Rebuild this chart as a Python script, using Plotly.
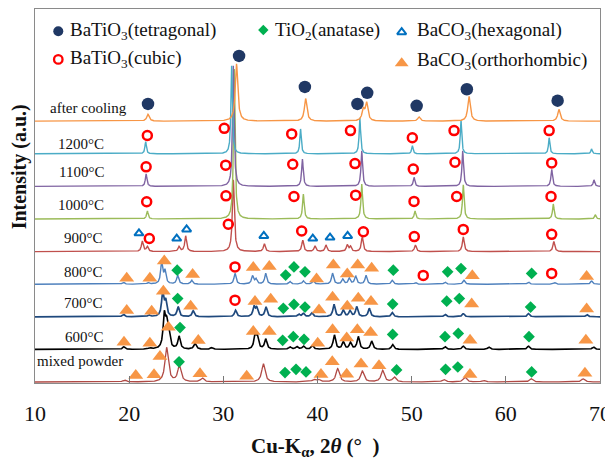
import numpy as np
import plotly.graph_objects as go

# ---------------- data ----------------
labels = ["mixed powder", "600°C", "700°C", "800°C", "900°C",
          "1000°C", "1100°C", "1200°C", "after cooling"]

mixed_pos = [19.5, 23.98, 25.33, 27.77, 34.25, 39.6, 40.1, 42.14, 44.76, 46.92, 48.15,
             53.4, 55.66, 57.6, 62.7, 68.2]
mixed_int = [0.06, 1.05, 0.49, 0.12, 0.56, 0.07, 0.07, 0.41, 0.33, 0.35, 0.15,
             0.08, 0.15, 0.05, 0.10, 0.10]

t600_pos = [19.45, 22.2, 23.73, 23.98, 24.2, 25.3, 27.0, 28.76, 33.36, 33.6, 34.5, 37.08,
            37.8, 38.5, 39.45, 41.79, 42.74, 43.5, 44.33, 45.75, 47.98, 53.54, 55.48,
            58.2, 62.4, 69.3]
t600_int = [0.08, 0.04, 0.98, 0.64, 0.40, 0.39, 0.18, 0.05, 0.36, 0.36, 0.31, 0.07,
            0.08, 0.10, 0.12, 0.44, 0.22, 0.20, 0.39, 0.25, 0.15, 0.09, 0.10,
            0.07, 0.10, 0.08]

t700_pos = [19.38, 22.1, 23.56, 23.88, 25.2, 26.8, 31.3, 33.26, 33.55, 34.53, 38.0, 38.5,
            39.4, 41.75, 42.74, 43.45, 44.16, 45.5, 47.94, 53.54, 55.48, 62.4, 68.6]
t700_int = [0.08, 0.05, 0.72, 0.46, 0.30, 0.18, 0.20, 0.30, 0.25, 0.30, 0.08, 0.10,
            0.12, 0.38, 0.20, 0.18, 0.30, 0.26, 0.13, 0.08, 0.10, 0.10, 0.07]

t800_pos = [19.38, 22.03, 23.45, 23.8, 25.15, 26.64, 31.24, 33.1, 33.47, 34.5, 37.08, 38.5,
            39.55, 41.6, 42.68, 43.38, 44.05, 45.15, 47.94, 50.4, 53.54, 55.55, 62.4,
            65.2, 69.1]
t800_int = [0.06, 0.05, 0.65, 0.39, 0.27, 0.12, 0.33, 0.25, 0.15, 0.33, 0.08, 0.10,
            0.10, 0.33, 0.15, 0.18, 0.25, 0.27, 0.12, 0.05, 0.07, 0.12, 0.07,
            0.05, 0.10]

t900_pos = [21.4, 21.93, 25.3, 26.0, 31.06, 34.35, 38.43, 39.73, 40.9, 43.16, 43.5, 44.75,
            50.4, 55.48, 65.1]
t900_int = [0.32, 0.15, 0.15, 0.48, 2.2, 0.24, 0.35, 0.17, 0.20, 0.20, 0.15, 0.45,
            0.20, 0.45, 0.31]

t1000_pos = [21.93, 31.16, 38.5, 44.7, 50.35, 55.48, 65.04, 69.5]
t1000_int = [0.25, 4.6, 0.76, 1.07, 0.25, 1.05, 0.46, 0.13]

t1100_pos = [21.8, 31.06, 38.4, 44.7, 50.25, 55.42, 64.87, 69.36]
t1100_int = [0.38, 3.7, 0.84, 1.09, 0.28, 1.09, 0.53, 0.20]

t1200_pos = [21.75, 30.88, 38.2, 44.5, 50.07, 55.24, 64.6, 69.1]
t1200_int = [0.38, 2.7, 0.76, 1.10, 0.25, 1.02, 0.49, 0.15]

cool_pos = [22.0, 31.4, 38.74, 44.86, 45.22, 50.78, 56.09, 65.64]
cool_int = [0.21, 1.76, 0.69, 0.34, 0.54, 0.13, 0.76, 0.36]

peak_fwhm = [0.42, 0.30, 0.28, 0.26, 0.24, 0.20, 0.20, 0.18, 0.32]

# phase markers: 2theta, pattern row, height above that pattern's baseline
tet_x = [22.0, 31.67, 38.66, 44.24, 45.28, 50.53, 55.86, 65.5]
tet_row = [8, 8, 8, 8, 8, 8, 8, 8]
tet_h = [0.53, 2.0, 1.05, 0.53, 0.87, 0.47, 0.98, 0.63]

cub_x = [21.93, 30.1, 37.26, 43.5, 50.07, 54.5, 64.6,
         21.8, 30.25, 37.37, 43.98, 50.17, 54.6, 64.87,
         21.86, 30.28, 37.5, 44.05, 50.25, 54.78, 64.8,
         22.14, 30.53, 38.32, 44.87, 50.28, 55.48, 64.87,
         31.24, 51.23, 64.87,
         31.24]
cub_row = [7] * 7 + [6] * 7 + [5] * 7 + [4] * 7 + [3] * 3 + [2]
cub_h = [0.56, 0.78, 0.61, 0.71, 0.49, 0.71, 0.71,
         0.60, 0.65, 0.68, 0.70, 0.53, 0.74, 0.72,
         0.53, 0.71, 0.69, 0.73, 0.54, 0.69, 0.69,
         0.40, 0.84, 0.63, 0.61, 0.46, 0.68, 0.53,
         0.53, 0.27, 0.33,
         0.51]

hex_x = [21.04, 25.05, 26.1, 34.3, 39.5, 41.33, 43.2]
hex_row = [4] * 7
hex_h = [0.56, 0.40, 0.68, 0.48, 0.40, 0.43, 0.48]

ana_x = [25.1, 36.62, 37.5, 38.67, 48.05, 53.82, 55.24, 62.74,
         25.15, 36.37, 37.5, 38.67, 47.98, 53.72, 55.06, 62.63,
         25.4, 36.3, 37.43, 38.57, 47.98, 53.54, 54.95, 62.46,
         25.3, 36.55, 37.72, 38.78, 48.4, 53.6, 54.9, 62.74]
ana_row = [3] * 8 + [2] * 8 + [1] * 8 + [0] * 8
ana_h = [0.43, 0.28, 0.53, 0.38, 0.43, 0.38, 0.48, 0.33,
         0.56, 0.26, 0.38, 0.30, 0.39, 0.48, 0.56, 0.30,
         0.67, 0.28, 0.39, 0.31, 0.46, 0.39, 0.49, 0.39,
         0.62, 0.29, 0.39, 0.31, 0.37, 0.39, 0.46, 0.31]

ort_x = [19.74, 22.2, 23.73, 26.74, 33.18, 34.88, 39.9, 41.68, 43.16, 44.27, 45.75, 56.44, 68.58,
         19.74, 22.39, 23.63, 26.53, 33.36, 35.03, 40.16, 41.6, 43.16, 44.33, 45.68, 56.37, 68.58,
         19.45, 22.2, 24.16, 27.34, 33.18, 34.88, 40.02, 41.6, 43.1, 44.23, 45.64, 56.2, 68.5,
         20.7, 22.64, 23.27, 27.52, 32.48, 40.37, 41.57, 43.1, 44.62, 46.53, 56.19, 68.4]
ort_row = [3] * 13 + [2] * 13 + [1] * 13 + [0] * 12
ort_h = [0.18, 0.18, 0.71, 0.30, 0.51, 0.54, 0.16, 0.59, 0.31, 0.59, 0.49, 0.26, 0.24,
         0.19, 0.17, 0.78, 0.32, 0.47, 0.54, 0.21, 0.60, 0.32, 0.57, 0.47, 0.39, 0.24,
         0.22, 0.19, 0.68, 0.27, 0.55, 0.55, 0.19, 0.60, 0.35, 0.60, 0.52, 0.28, 0.28,
         0.20, 0.22, 0.78, 0.25, 0.18, 0.23, 0.62, 0.24, 0.55, 0.50, 0.23, 0.27]

x_ticks = [10, 20, 30, 40, 50, 60, 70]

# ---------------- styling ----------------
FONT = "Liberation Serif"
line_colors = ["#B04A45", "#000000", "#1F497D", "#4F81BD", "#C0504D",
               "#9BBB59", "#8064A2", "#4BACC6", "#F79646"]
line_widths = [1.3, 1.6, 1.7, 1.4, 1.4, 1.4, 1.4, 1.4, 1.4]
label_pos = [(10.05, 0.63, "left"), (15.3, 1.38, "center"), (15.1, 2.42, "center"),
             (15.1, 3.37, "center"), (15.2, 4.41, "center"), (14.9, 5.44, "center"),
             (14.9, 6.43, "center"), (14.9, 7.31, "center"), (15.63, 8.40, "center")]

pattern_pos = [mixed_pos, t600_pos, t700_pos, t800_pos, t900_pos,
               t1000_pos, t1100_pos, t1200_pos, cool_pos]
pattern_int = [mixed_int, t600_int, t700_int, t800_int, t900_int,
               t1000_int, t1100_int, t1200_int, cool_int]

fig = go.Figure()

grid = np.arange(10.0, 70.0001, 0.02)
for row, (pos, inten) in enumerate(zip(pattern_pos, pattern_int)):
    w = peak_fwhm[row] / 2.0
    prof = np.zeros_like(grid)
    for p, h in zip(pos, inten):
        prof += h / (1.0 + ((grid - p) / w) ** 2)
    fig.add_trace(go.Scatter(x=grid, y=prof + row, mode="lines",
                             line=dict(color=line_colors[row], width=line_widths[row]),
                             showlegend=False, hoverinfo="skip"))


def add_markers(xs, rows, hs, **marker):
    ys = [r + h for r, h in zip(rows, hs)]
    fig.add_trace(go.Scatter(x=xs, y=ys, mode="markers", marker=marker,
                             showlegend=False, hoverinfo="skip", cliponaxis=False))


add_markers(ort_x, ort_row, ort_h, symbol="triangle-up", size=13, color="#F79646",
            line=dict(width=0))
add_markers(ana_x, ana_row, ana_h, symbol="diamond", size=9, color="#00B050",
            line=dict(width=0))
add_markers(hex_x, hex_row, hex_h, symbol="triangle-up-open", size=8, color="#0070C0",
            line=dict(width=2))
add_markers(cub_x, cub_row, cub_h, symbol="circle-open", size=9, color="#FF0000",
            line=dict(width=2.5))
add_markers(tet_x, tet_row, tet_h, symbol="circle", size=12.5, color="#203864",
            line=dict(width=0))

# ---------- custom legend (overlay axis in paper-like units) ----------
leg_sym = [("circle", 10, "#203864", 0, 0.0412, 0.9407),
           ("circle-open", 8.5, "#FF0000", 2.3, 0.0412, 0.8653),
           ("diamond", 8, "#00B050", 0, 0.4041, 0.944),
           ("triangle-up-open", 8, "#0070C0", 2, 0.649, 0.938),
           ("triangle-up", 12, "#F79646", 0, 0.649, 0.855)]
for sym, sz, col, lw, lx, ly in leg_sym:
    fig.add_trace(go.Scatter(x=[lx], y=[ly], xaxis="x2", yaxis="y2", mode="markers",
                             marker=dict(symbol=sym, size=sz, color=col, line=dict(width=lw, color=col)),
                             showlegend=False, hoverinfo="skip"))

leg_txt = [("BaTiO<sub>3</sub>(tetragonal)", 0.0584, 0.940),
           ("BaTiO<sub>3</sub>(cubic)", 0.0584, 0.866),
           ("TiO<sub>2</sub>(anatase)", 0.4212, 0.942),
           ("BaCO<sub>3</sub>(hexagonal)", 0.6726, 0.942),
           ("BaCO<sub>3</sub>(orthorhombic)", 0.6726, 0.860)]
annotations = []
for t, ax_, ay_ in leg_txt:
    annotations.append(dict(text=t, x=ax_, y=ay_, xref="paper", yref="paper",
                            xanchor="left", yanchor="middle", showarrow=False,
                            font=dict(family=FONT, size=19, color="#111")))

for (lx, ly, anc), lab in zip(label_pos, labels):
    annotations.append(dict(text=lab, x=lx, y=ly, xref="x", yref="y", xanchor=anc,
                            yanchor="middle", showarrow=False,
                            font=dict(family=FONT, size=15, color="#111")))

annotations.append(dict(text="<b>Intensity (a.u.)</b>", x=-0.0274, y=0.578, xref="paper",
                        yref="paper", textangle=-90, showarrow=False,
                        xanchor="center", yanchor="middle", borderpad=0,
                        font=dict(family=FONT, size=20, color="#111")))
annotations.append(dict(text="<b>Cu-K<sub>α</sub>, 2<i>θ</i> (°  )</b>", x=0.496, y=-0.172,
                        xref="paper", yref="paper", showarrow=False,
                        xanchor="center", yanchor="middle",
                        font=dict(family=FONT, size=21, color="#111")))

# the page body keeps its default 8px margin, so the figure is 8px smaller
fig.update_layout(
    width=605, height=453,
    margin=dict(l=27, r=13, t=1, b=78, autoexpand=False),
    paper_bgcolor="white", plot_bgcolor="white",
    showlegend=False,
    annotations=annotations,
    xaxis=dict(range=[10, 70], tickvals=x_ticks, ticks="inside", ticklen=7,
               tickcolor="#777", tickwidth=1, showline=True, linecolor="#8a8a8a",
               linewidth=1, mirror=True, showgrid=False, zeroline=False,
               automargin=False,
               tickfont=dict(family=FONT, size=22, color="#111"),
               ticklabelstandoff=11),
    yaxis=dict(range=[-0.03, 11.44], showticklabels=False, ticks="", showline=True,
               linecolor="#8a8a8a", linewidth=1, mirror=True, showgrid=False,
               zeroline=False, automargin=False),
    xaxis2=dict(range=[0, 1], overlaying="x", visible=False),
    yaxis2=dict(range=[0, 1], overlaying="y", visible=False),
)

fig.write_html("out.html")
